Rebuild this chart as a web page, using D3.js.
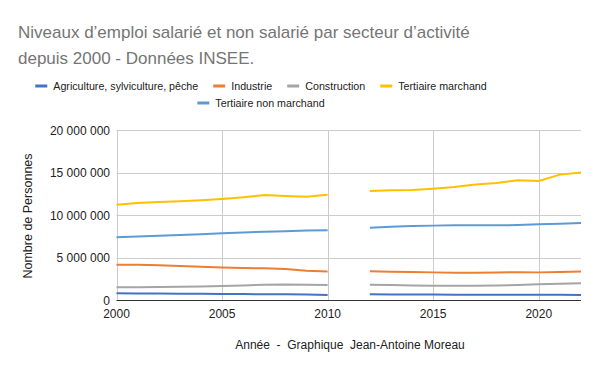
<!DOCTYPE html>
<html>
<head>
<meta charset="utf-8">
<script src="https://cdn.jsdelivr.net/npm/d3@7"></script>
<style>
  body { margin: 0; background: #fff; }
  svg { font-family: "Liberation Sans", Arial, sans-serif; display: block; }
</style>
</head>
<body>
<svg id="chart" width="600" height="371"></svg>
<script>
// years, 2011 is missing in the source
var years = d3.range(2000, 2023);

var seriesNames = ["Agriculture, sylviculture, pêche", "Industrie", "Construction",
  "Tertiaire marchand", "Tertiaire non marchand"];
var seriesColors = ["#4472c4", "#ed7d31", "#a5a5a5", "#ffc000", "#5b9bd5"];

var agriculture = [780000, 770000, 760000, 750000, 740000, 710000, 700000, 680000, 670000, 640000, 600000,
  null, 670000, 660000, 650000, 640000, 630000, 630000, 630000, 630000, 630000, 620000, 600000];
var industrie = [4160000, 4150000, 4080000, 4000000, 3920000, 3820000, 3770000, 3730000, 3650000, 3430000, 3340000,
  null, 3370000, 3330000, 3290000, 3250000, 3220000, 3220000, 3240000, 3270000, 3250000, 3300000, 3350000];
var construction = [1490000, 1500000, 1530000, 1560000, 1600000, 1650000, 1720000, 1790000, 1830000, 1790000, 1760000,
  null, 1800000, 1760000, 1720000, 1690000, 1690000, 1690000, 1720000, 1760000, 1840000, 1920000, 1960000];
var tertiaireMarchand = [11220000, 11410000, 11530000, 11610000, 11730000, 11880000, 12080000, 12350000, 12240000, 12160000, 12390000,
  null, 12820000, 12900000, 12940000, 13100000, 13290000, 13600000, 13760000, 14080000, 14000000, 14750000, 15000000];
var tertiaireNonMarchand = [7370000, 7470000, 7570000, 7650000, 7730000, 7840000, 7950000, 8040000, 8100000, 8170000, 8200000,
  null, 8510000, 8630000, 8710000, 8750000, 8780000, 8800000, 8780000, 8820000, 8900000, 8980000, 9060000];

var xTicks = [2000, 2005, 2010, 2015, 2020];
var yTicks = [0, 5000000, 10000000, 15000000, 20000000];

var titleLines = ["Niveaux d’emploi salarié et non salarié par secteur d’activité",
  "depuis 2000 - Données INSEE."];
var yTitle = "Nombre de Personnes";
var xTitle = "Année  -  Graphique  Jean-Antoine Moreau";

var allSeries = [agriculture, industrie, construction, tertiaireMarchand, tertiaireNonMarchand];

var svg = d3.select("#chart");
var plotLeft = 116.5, plotRight = 581, plotTop = 130, plotBottom = 300;

var x = d3.scaleLinear().domain([2000, 2022]).range([plotLeft, plotRight]);
var y = d3.scaleLinear().domain([0, 20000000]).range([plotBottom, plotTop]);

// title
svg.append("g").selectAll("text")
  .data(titleLines)
  .enter()
  .append("text")
  .attr("x", 18)
  .attr("y", (d, i) => 38 + i * 26)
  .attr("fill", "#757575")
  .style("font-size", "17px")
  .text(d => d);

// legend, two centered rows
var legend = svg.append("g");
var rows = [[0, 1, 2, 3], [4]];
rows.forEach((row, r) => {
  var g = legend.append("g");
  var cx = 0;
  row.forEach(i => {
    g.append("line")
      .attr("x1", cx).attr("x2", cx + 12)
      .attr("y1", 0).attr("y2", 0)
      .attr("stroke", seriesColors[i])
      .attr("stroke-width", 3);
    var t = g.append("text")
      .attr("x", cx + 18)
      .attr("y", 4)
      .attr("fill", "#222")
      .style("font-size", "10.7px")
      .text(seriesNames[i]);
    cx += 18 + t.node().getComputedTextLength() + 15;
  });
  var w = cx - 15;
  g.attr("transform", "translate(" + (261 - w / 2) + "," + (86 + r * 17) + ")");
});

// grid
svg.append("g").selectAll("line")
  .data(yTicks.slice(1))
  .enter()
  .append("line")
  .attr("x1", plotLeft).attr("x2", plotRight)
  .attr("y1", d => Math.round(y(d)) + 0.5).attr("y2", d => Math.round(y(d)) + 0.5)
  .attr("stroke", "#ccc");

svg.append("g").selectAll("line")
  .data(xTicks)
  .enter()
  .append("line")
  .attr("x1", d => Math.round(x(d)) + 0.5).attr("x2", d => Math.round(x(d)) + 0.5)
  .attr("y1", plotTop).attr("y2", plotBottom)
  .attr("stroke", "#ccc");

// axis labels
var fmt = d => d3.format(",")(d).replace(/,/g, " ");
svg.append("g").selectAll("text")
  .data(yTicks)
  .enter()
  .append("text")
  .attr("x", 110)
  .attr("y", d => y(d) + 4.5)
  .attr("text-anchor", "end")
  .attr("fill", "#222")
  .style("font-size", "12px")
  .text(fmt);

svg.append("g").selectAll("text")
  .data(xTicks)
  .enter()
  .append("text")
  .attr("x", d => x(d))
  .attr("y", 318)
  .attr("text-anchor", "middle")
  .attr("fill", "#222")
  .style("font-size", "12px")
  .text(d => d);

// lines
var line = d3.line()
  .defined(d => d[1] != null)
  .x(d => x(d[0]))
  .y(d => y(d[1]));

svg.append("g").selectAll("path")
  .data(allSeries)
  .enter()
  .append("path")
  .attr("d", s => line(years.map((yr, i) => [yr, s[i]])))
  .attr("fill", "none")
  .attr("stroke", (d, i) => seriesColors[i])
  .attr("stroke-width", 2)
  .attr("stroke-linejoin", "round");

// baseline
svg.append("line")
  .attr("x1", plotLeft).attr("x2", plotRight)
  .attr("y1", plotBottom + 0.5).attr("y2", plotBottom + 0.5)
  .attr("stroke", "#333");

// axis titles
svg.append("text")
  .attr("transform", "translate(32," + ((plotTop + plotBottom) / 2 + 1) + ") rotate(-90)")
  .attr("text-anchor", "middle")
  .attr("fill", "#222")
  .style("font-size", "12.5px")
  .text(yTitle);

svg.append("text")
  .attr("x", 350)
  .attr("y", 349)
  .attr("text-anchor", "middle")
  .attr("fill", "#222")
  .style("font-size", "12px")
  .style("white-space", "pre")
  .text(xTitle);
</script>
</body>
</html>
